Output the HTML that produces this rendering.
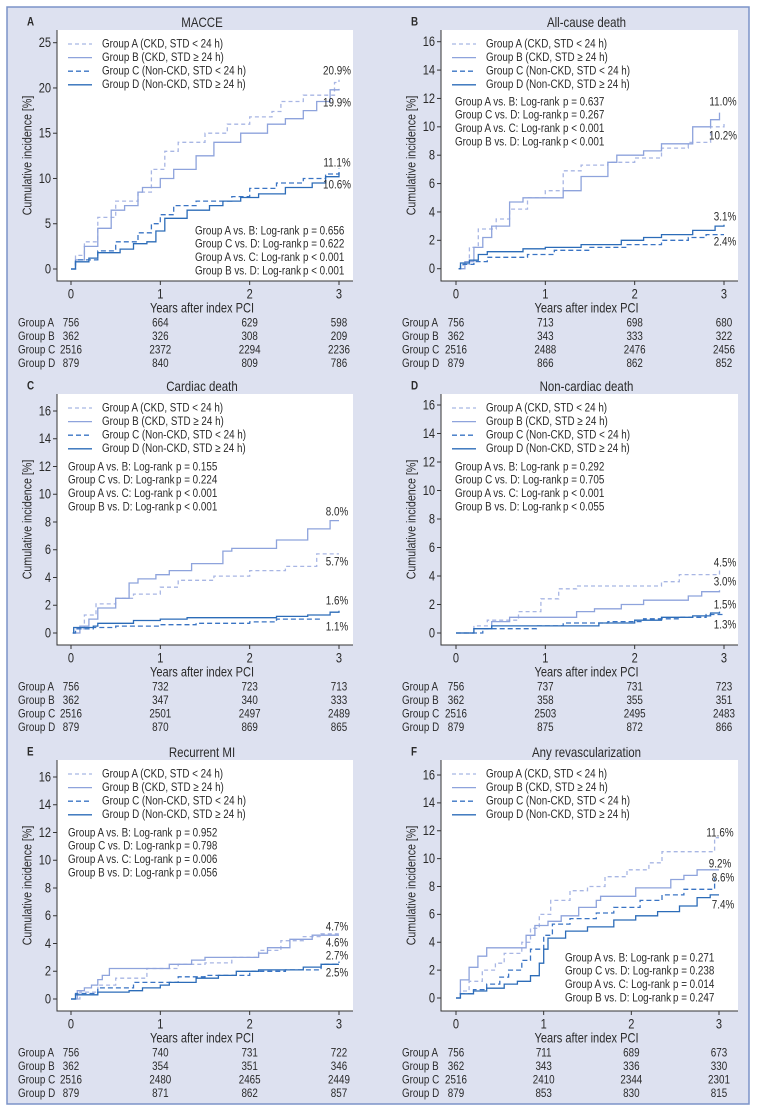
<!DOCTYPE html>
<html><head><meta charset="utf-8"><style>
html,body{margin:0;padding:0;background:#fff}
svg text{font-family:"Liberation Sans",sans-serif;fill:#2a2a2a}
</style></head><body>
<svg id="fig" width="757" height="1112" viewBox="0 0 757 1112" xmlns="http://www.w3.org/2000/svg">
<rect x="7" y="7" width="742" height="1097" fill="#dde1f0" stroke="#7b93c8" stroke-width="1.5"/>
</svg>
<script>
// ---- data ----
const years = [0, 1, 2, 3];
const groupNames = ["Group A", "Group B", "Group C", "Group D"];
const legendLabels = ["Group A (CKD, STD < 24 h)", "Group B (CKD, STD \u2265 24 h)", "Group C (Non-CKD, STD < 24 h)", "Group D (Non-CKD, STD \u2265 24 h)"];
const ticks25 = [0, 5, 10, 15, 20, 25];
const ticks16 = [0, 2, 4, 6, 8, 10, 12, 14, 16];

// MACCE
const macceA = [[0,0],[0.05,1.5],[0.15,3],[0.3,5.7],[0.5,7.5],[0.75,8.5],[0.9,11],[1.05,13],[1.2,14],[1.5,15],[1.75,16],[2.0,16.8],[2.25,17.4],[2.35,18.5],[2.6,19.2],[2.95,20.6],[3,20.9]];
const macceB = [[0,0],[0.05,1],[0.15,2.5],[0.3,4.5],[0.45,6.5],[0.6,7],[0.75,8.5],[0.8,9],[1.0,10],[1.15,11],[1.4,12.5],[1.6,14],[1.9,15],[2.2,16],[2.4,16.6],[2.6,17.5],[2.75,18.5],[2.9,19.8],[3,19.9]];
const macceC = [[0,0],[0.05,1],[0.3,2],[0.5,3],[0.75,4],[0.9,5],[1.0,6],[1.15,7],[1.4,7.5],[1.8,8],[2.0,8.9],[2.3,9.5],[2.6,10],[2.85,10.5],[3,11.1]];
const macceD = [[0,0],[0.05,0.8],[0.2,1.2],[0.3,1.8],[0.55,2.2],[0.7,2.8],[0.85,3],[0.95,4.2],[1.05,5.6],[1.3,6.5],[1.55,7],[1.7,7.5],[1.9,7.9],[2.1,8.3],[2.4,9],[2.7,9.5],[2.85,10.2],[3,10.6]];
// All-cause death
const deathA = [[0.03,0],[0.08,0.3],[0.15,1.5],[0.25,2.8],[0.45,3.5],[0.6,4.2],[0.8,5],[1.0,5.5],[1.2,6.9],[1.4,7.3],[1.7,7.5],[2.0,7.8],[2.3,8.5],[2.6,8.9],[2.85,10],[3,10.2]];
const deathB = [[0.03,0],[0.1,0.5],[0.2,1.5],[0.3,2.2],[0.4,3],[0.6,4.7],[0.75,5],[1.2,5.5],[1.4,6.5],[1.7,7.5],[1.8,8],[2.1,8.3],[2.3,8.8],[2.65,10],[2.85,10.5],[2.95,11]];
const deathC = [[0.03,0],[0.05,0.3],[0.2,0.5],[0.35,0.8],[0.8,1.0],[1.1,1.3],[1.5,1.5],[1.9,1.7],[2.3,2.0],[2.6,2.2],[2.8,2.4],[3,2.4]];
const deathD = [[0.03,0],[0.05,0.4],[0.15,0.6],[0.25,1.0],[0.35,1.2],[0.75,1.4],[1.0,1.5],[1.4,1.7],[1.85,2.0],[2.1,2.2],[2.3,2.4],[2.65,2.7],[2.9,3.0],[3,3.1]];
// Cardiac death
const cardA = [[0.02,0],[0.05,0.3],[0.15,1.3],[0.28,2.1],[0.5,2.5],[0.7,2.8],[1.0,3.3],[1.2,3.8],[1.6,4.1],[2.0,4.5],[2.4,4.8],[2.75,5.7],[3,5.7]];
const cardB = [[0.02,0],[0.1,0.5],[0.2,1],[0.3,1.8],[0.5,2.5],[0.65,3.6],[0.75,3.9],[0.95,4.2],[1.1,4.5],[1.35,5],[1.7,5.9],[1.8,6.1],[2.3,6.7],[2.65,7.5],[2.9,8.1],[3,8.1]];
const cardC = [[0.02,0],[0.05,0.3],[0.25,0.4],[0.5,0.5],[1.0,0.6],[1.4,0.7],[2.0,0.8],[2.3,1.0],[2.8,1.1]];
const cardD = [[0.02,0],[0.03,0.4],[0.25,0.5],[0.3,0.7],[0.7,0.9],[1.0,1.0],[1.3,1.1],[2.3,1.2],[2.65,1.3],[2.9,1.5],[3,1.6]];
// Non-cardiac death
const noncardA = [[0,0],[0.2,0.5],[0.35,0.9],[0.7,1.5],[0.95,2.4],[1.15,3.1],[1.35,3.3],[2.3,3.6],[2.5,4.1],[2.95,4.5]];
const noncardB = [[0,0],[0.2,0.3],[0.4,0.8],[0.6,1.1],[1.35,1.5],[1.55,1.7],[1.85,2.0],[2.1,2.3],[2.6,2.6],[2.75,2.9],[2.95,3.0]];
const noncardC = [[0,0],[0.3,0.3],[0.9,0.5],[1.2,0.7],[1.7,0.8],[2.1,1.0],[2.5,1.1],[2.8,1.3],[3,1.3]];
const noncardD = [[0,0],[0.2,0.3],[0.4,0.5],[1.0,0.5],[1.6,0.7],[2.0,0.9],[2.3,1.1],[2.65,1.2],[2.85,1.4],[2.95,1.5]];
// Recurrent MI
const miA = [[0,0],[0.1,0.5],[0.3,1],[0.5,1.5],[0.85,2.2],[1.2,2.5],[1.5,2.6],[1.8,3],[2.1,3.5],[2.35,4.2],[2.6,4.5],[2.8,4.7],[3,4.7]];
const miB = [[0,0],[0.07,0.6],[0.15,0.8],[0.23,1.0],[0.3,1.4],[0.35,1.7],[0.43,2.2],[1.1,2.5],[1.35,2.8],[1.5,3.0],[2.1,3.3],[2.2,3.7],[2.45,4.3],[2.7,4.6],[3,4.6]];
const miC = [[0,0],[0.05,0.4],[0.3,0.8],[0.7,1.2],[1.2,1.6],[1.5,1.7],[2.0,2.0],[2.4,2.1],[2.8,2.5],[3,2.7]];
const miD = [[0,0],[0.05,0.3],[0.3,0.5],[0.65,0.6],[0.8,0.8],[1.0,1.0],[1.1,1.2],[1.4,1.5],[1.65,1.7],[1.85,2.0],[2.1,2.1],[2.6,2.3],[2.8,2.5],[3,2.5]];
// Any revascularization
const revA = [[0,0],[0.05,0.5],[0.15,1.2],[0.3,2],[0.45,2.5],[0.55,3.2],[0.75,4],[0.85,5],[0.95,6],[1.08,7],[1.3,7.7],[1.5,8],[1.7,8.7],[1.95,9.2],[2.2,9.7],[2.35,10.5],[2.7,10.5],[2.95,11.5],[3,11.5]];
const revB = [[0,0],[0.05,1.3],[0.15,2.2],[0.25,3],[0.35,3.6],[0.65,3.6],[0.8,4.5],[0.9,5.2],[1.05,5.5],[1.2,5.9],[1.4,6.5],[1.6,7],[1.65,7.3],[2.05,7.9],[2.45,8.5],[2.6,8.8],[2.75,9.2],[3,9.2]];
const revC = [[0,0],[0.05,0.3],[0.2,0.6],[0.35,1],[0.5,1.5],[0.6,2],[0.75,2.7],[0.85,3.5],[1.0,4.5],[1.1,5.3],[1.3,5.7],[1.6,6.1],[1.8,6.5],[2.1,7],[2.35,7.4],[2.6,7.8],[2.95,8.6]];
const revD = [[0,0],[0.05,0.3],[0.2,0.5],[0.35,0.7],[0.55,1],[0.7,1.2],[0.85,1.6],[0.95,2.5],[1.0,3.5],[1.05,4.3],[1.25,4.8],[1.5,5.1],[1.8,5.6],[2.05,5.9],[2.3,6.2],[2.55,6.6],[2.75,7.2],[2.9,7.4],[3,7.4]];

// Numbers at risk
const riskMACCE = [[756,664,629,598],[362,326,308,209],[2516,2372,2294,2236],[879,840,809,786]];
const riskDeath = [[756,713,698,680],[362,343,333,322],[2516,2488,2476,2456],[879,866,862,852]];
const riskCard = [[756,732,723,713],[362,347,340,333],[2516,2501,2497,2489],[879,870,869,865]];
const riskNoncard = [[756,737,731,723],[362,358,355,351],[2516,2503,2495,2483],[879,875,872,866]];
const riskMI = [[756,740,731,722],[362,354,351,346],[2516,2480,2465,2449],[879,871,862,857]];
const riskRev = [[756,711,689,673],[362,343,336,330],[2516,2410,2344,2301],[879,853,830,815]];

// Log-rank p values
const pMACCE = ["= 0.656","= 0.622","< 0.001","< 0.001"];
const pDeath = ["= 0.637","= 0.267","< 0.001","< 0.001"];
const pCard = ["= 0.155","= 0.224","< 0.001","< 0.001"];
const pNoncard = ["= 0.292","= 0.705","< 0.001","< 0.055"];
const pMI = ["= 0.952","= 0.798","= 0.006","= 0.056"];
const pRev = ["= 0.271","= 0.238","= 0.014","= 0.247"];
const compLabels = ["Group A vs. B: Log-rank","Group C vs. D: Log-rank","Group A vs. C: Log-rank","Group B vs. D: Log-rank"];

// End labels
const endMACCE = ["20.9%","19.9%","11.1%","10.6%"];
const endDeath = ["11.0%","10.2%","3.1%","2.4%"];
const endCard = ["8.0%","5.7%","1.6%","1.1%"];
const endNoncard = ["4.5%","3.0%","1.5%","1.3%"];
const endMI = ["4.7%","4.6%","2.7%","2.5%"];
const endRev = ["11.6%","9.2%","8.6%","7.4%"];

// ---- layout ----
const NS = "http://www.w3.org/2000/svg";
const svg = document.getElementById("fig");
const SX = 0.82;
const styles = [
  {c:"#a8b6e4", d:"4,3"},
  {c:"#8ea3dc", d:""},
  {c:"#3a74c4", d:"5,3"},
  {c:"#2c6cb8", d:""}
];
function mk(tag, attrs, parent){
  const e = document.createElementNS(NS, tag);
  for (const k in attrs) e.setAttribute(k, attrs[k]);
  (parent||svg).appendChild(e);
  return e;
}
function txt(s, x, y, size, anchor, parent, weight, rot){
  const t = mk("text", {x:0, y:0, "font-size":size, "text-anchor":anchor||"start", "dominant-baseline":"central"}, parent);
  t.setAttribute("transform", `translate(${x},${y})${rot ? " rotate(-90)" : ""} scale(${SX},1)`);
  if (weight) t.setAttribute("font-weight", weight);
  t.textContent = s;
  return t;
}

const panels = [
  {id:"a", letter:"A", title:"MACCE", series:[macceA,macceB,macceC,macceD], risk:riskMACCE, p:pMACCE, ends:endMACCE,
   L:57,R:353,T:30,B:281,x0:71,x3:339,yZ:269,yM:42.7,max:25,ticks:ticks25, lr:[195,231], endPos:[[337,71],[337,103],[337,163],[337,185]]},
  {id:"b", letter:"B", title:"All-cause death", series:[deathA,deathB,deathC,deathD], risk:riskDeath, p:pDeath, ends:endDeath,
   L:441,R:738,T:30,B:281,x0:456,x3:724,yZ:268.7,yM:41.7,max:16,ticks:ticks16, lr:[455,102], endPos:[[723,102],[723,136],[725,217],[725,242]]},
  {id:"c", letter:"C", title:"Cardiac death", series:[cardA,cardB,cardC,cardD], risk:riskCard, p:pCard, ends:endCard,
   L:57,R:353,T:394,B:645,x0:71,x3:339,yZ:633,yM:411,max:16,ticks:ticks16, lr:[68,467], endPos:[[337,512],[337,562],[337,601],[337,627]]},
  {id:"d", letter:"D", title:"Non-cardiac death", series:[noncardA,noncardB,noncardC,noncardD], risk:riskNoncard, p:pNoncard, ends:endNoncard,
   L:441,R:738,T:394,B:645,x0:456,x3:724,yZ:633,yM:405,max:16,ticks:ticks16, lr:[455,467], endPos:[[725,563],[725,582],[725,605],[725,625]]},
  {id:"e", letter:"E", title:"Recurrent MI", series:[miA,miB,miC,miD], risk:riskMI, p:pMI, ends:endMI,
   L:57,R:353,T:760,B:1011,x0:71,x3:339,yZ:999,yM:777,max:16,ticks:ticks16, lr:[68,833], endPos:[[337,927],[337,943],[337,956],[337,973]]},
  {id:"f", letter:"F", title:"Any revascularization", series:[revA,revB,revC,revD], risk:riskRev, p:pRev, ends:endRev,
   L:441,R:738,T:760,B:1011,x0:456,x3:719,yZ:998,yM:775,max:16,ticks:ticks16, lr:[565,958], endPos:[[720,833],[720,864],[723,878],[723,905]]}
];

panels.forEach(P => {
  const g = mk("g", {});
  
  
  const xs = t => P.x0 + (P.x3 - P.x0) * t / 3;
  const ys = v => P.yZ - (P.yZ - P.yM) * v / P.max;

  const lt = txt(P.letter, P.L - 30, P.T - 8, 12, "start", g, "bold");
  
  
  const tt = txt(P.title, (P.L + P.R) / 2 - 3, P.T - 8, 14, "middle", g);
  
  

  const bg = mk("rect", {x:P.L, y:P.T, width:P.R - P.L, height:P.B - P.T, fill:"#fff"}, g);
  
  
  const ax = mk("path", {d:`M${P.L},${P.T} V${P.B} H${P.R}`, fill:"none", stroke:"#333", "stroke-width":1}, g);
  
  

  P.ticks.forEach(v => {
    const y = ys(v);
    mk("line", {x1:P.L - 4, x2:P.L, y1:y, y2:y, stroke:"#333"}, g);
    const t = txt(String(v), P.L - 6, y, 13.5, "end", g);
    
    
  });
  years.forEach(v => {
    const x = xs(v);
    mk("line", {x1:x, x2:x, y1:P.B, y2:P.B + 4, stroke:"#333"}, g);
    const t = txt(String(v), x, P.B + 13, 13.5, "middle", g);
    
    
  });
  const yt = txt("Cumulative incidence [%]", P.L - 30, (P.T + P.B) / 2, 13, "middle", g, null, true);
  
  
  const xt = txt("Years after index PCI", (P.L + P.R) / 2 - 3, P.B + 27, 13.5, "middle", g);
  
  

  // curves
  P.series.forEach((s, i) => {
    let d = `M${xs(s[0][0]).toFixed(1)},${ys(s[0][1]).toFixed(1)}`;
    for (let k = 1; k < s.length; k++) {
      d += ` H${xs(s[k][0]).toFixed(1)} V${ys(s[k][1]).toFixed(1)}`;
    }
    const p = mk("path", {d:d, fill:"none", stroke:styles[i].c, "stroke-width":1.3}, g);
    if (styles[i].d) p.setAttribute("stroke-dasharray", styles[i].d);
    
    
  });

  // legend
  legendLabels.forEach((lab, i) => {
    const y = P.T + 14 + i * 13.6;
    const ln = mk("line", {x1:P.L + 11, x2:P.L + 35, y1:y, y2:y, stroke:styles[i].c, "stroke-width":1.3}, g);
    if (styles[i].d) ln.setAttribute("stroke-dasharray", styles[i].d);
    
    
    const t = txt(lab, P.L + 45, y, 12, "start", g);
    
    
  });

  // log-rank text
  compLabels.forEach((lab, i) => {
    const y = P.lr[1] + i * 13.4;
    const t = txt(lab, P.lr[0], y, 12, "start", g);
    
    
    const t2 = txt("p " + P.p[i], P.lr[0] + 108, y, 12, "start", g);
    
    
  });

  // end labels
  P.ends.forEach((lab, i) => {
    const t = txt(lab, P.endPos[i][0], P.endPos[i][1], 12, "middle", g);
    
    
  });

  // risk table
  groupNames.forEach((gn, r) => {
    const y = P.B + 42 + r * 13.5;
    const t = txt(gn, P.L - 39, y, 12, "start", g);
    
    
    P.risk[r].forEach((n, c) => {
      const tn = txt(String(n), xs(years[c]), y, 12, "middle", g);
      
      
    });
  });
});
</script>
</body></html>
